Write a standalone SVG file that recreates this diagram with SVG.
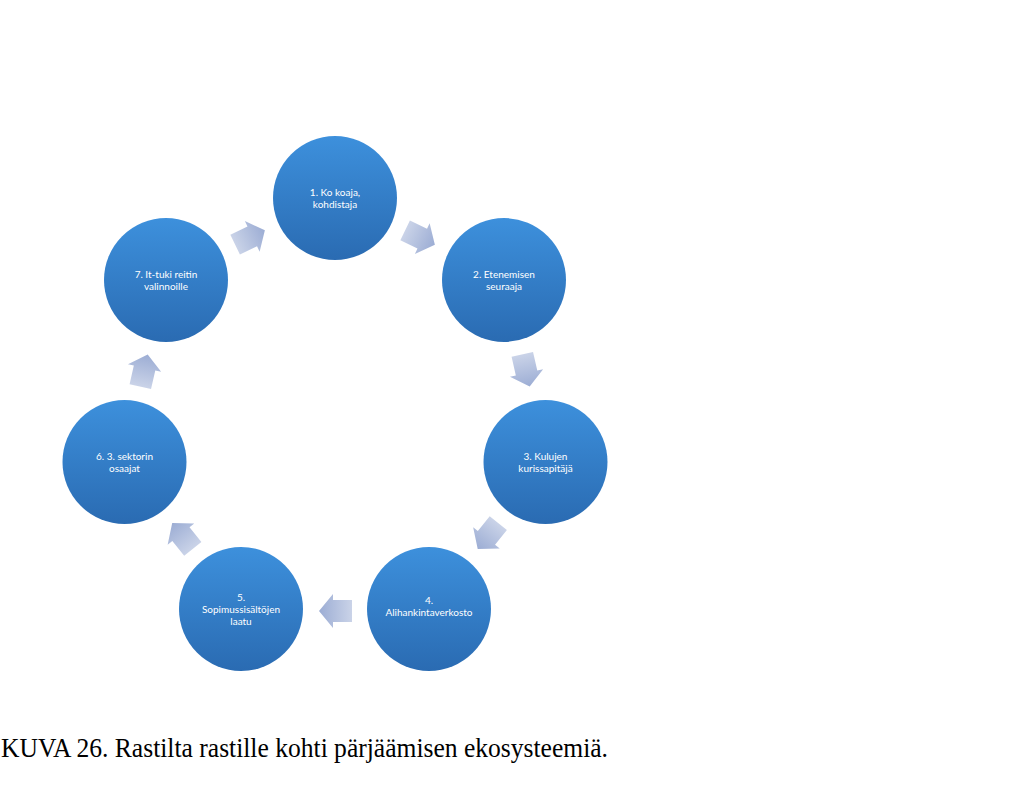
<svg xmlns="http://www.w3.org/2000/svg" width="1024" height="786" viewBox="0 0 1024 786">
<defs>
<linearGradient id="cg" x1="0" y1="0" x2="0" y2="1">
<stop offset="0" stop-color="#3d90dc"/>
<stop offset="1" stop-color="#2a6bb2"/>
</linearGradient>
<linearGradient id="ag" x1="0" y1="0" x2="1" y2="0">
<stop offset="0" stop-color="#cad3e8"/>
<stop offset="1" stop-color="#9cadd4"/>
</linearGradient>
<path id="arr" d="M -16.5,-11 L 2.5,-11 L 2.5,-17 L 16.5,0 L 2.5,17 L 2.5,11 L -16.5,11 Z"/>
</defs>
<style>
.node circle { fill: url(#cg); }
.node text { font-family: Lato, "Liberation Sans", sans-serif; font-size: 10px; fill: #ffffff; text-anchor: middle; }
.conn use { fill: url(#ag); }
.cap { font-family: "Liberation Serif", serif; font-size: 27px; fill: #000000; }
</style>
<rect width="1024" height="786" fill="#ffffff"/>
<g id="connectors" class="conn">
<use href="#arr" transform="translate(420,237.5) rotate(25.7)"/>
<use href="#arr" transform="translate(526,370.5) rotate(77.1)"/>
<use href="#arr" transform="translate(488,536) rotate(128.6)"/>
<use href="#arr" transform="translate(335.5,611) rotate(180)"/>
<use href="#arr" transform="translate(182.5,536) rotate(231.4)"/>
<use href="#arr" transform="translate(144,370.5) rotate(282.9)"/>
<use href="#arr" transform="translate(250,237.5) rotate(334.3)"/>
</g>
<g id="node1" class="node">
<circle cx="335" cy="198" r="62"/>
<text x="335" y="195.5">1. Ko koaja,</text>
<text x="335" y="207.5">kohdistaja</text>
</g>
<g id="node2" class="node">
<circle cx="504" cy="280" r="62"/>
<text x="504" y="277.5">2. Etenemisen</text>
<text x="504" y="289.5">seuraaja</text>
</g>
<g id="node3" class="node">
<circle cx="545.5" cy="462" r="62"/>
<text x="545.5" y="459.5">3. Kulujen</text>
<text x="545.5" y="471.5">kurissapitäjä</text>
</g>
<g id="node4" class="node">
<circle cx="429" cy="609" r="62"/>
<text x="429" y="604">4.</text>
<text x="429" y="616">Alihankintaverkosto</text>
</g>
<g id="node5" class="node">
<circle cx="241" cy="609" r="62"/>
<text x="241" y="600.5">5.</text>
<text x="241" y="612.5">Sopimussisältöjen</text>
<text x="241" y="624.5">laatu</text>
</g>
<g id="node6" class="node">
<circle cx="124.5" cy="462" r="62"/>
<text x="124.5" y="459.5">6. 3. sektorin</text>
<text x="124.5" y="471.5">osaajat</text>
</g>
<g id="node7" class="node">
<circle cx="166" cy="280" r="62"/>
<text x="166" y="277.5">7. It-tuki reitin</text>
<text x="166" y="289.5">valinnoille</text>
</g>
<text class="cap" x="1" y="757" textLength="607" lengthAdjust="spacingAndGlyphs">KUVA 26. Rastilta rastille kohti pärjäämisen ekosysteemiä.</text>
</svg>
